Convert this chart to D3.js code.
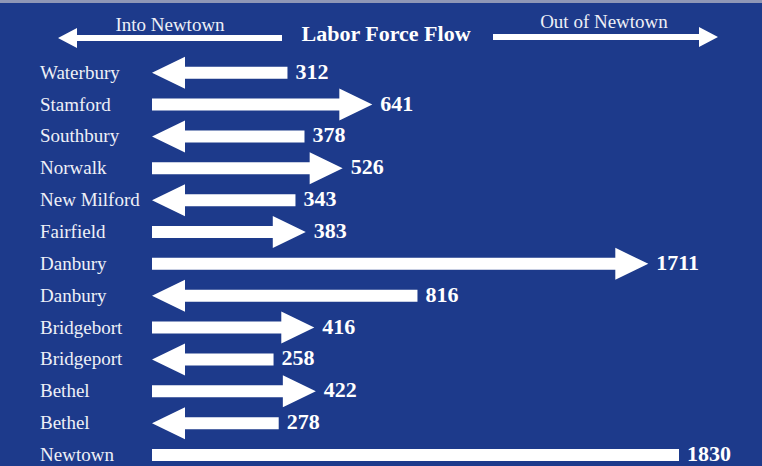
<!DOCTYPE html>
<html>
<head>
<meta charset="utf-8">
<style>
  body { margin: 0; background: #1d3a8b; }
  svg { display: block; }
</style>
</head>
<body>
<svg id="chart"></svg>
<script src="https://d3js.org/d3.v7.min.js"></script>
<script>
// towns, top to bottom
var towns = ["Waterbury", "Stamford", "Southbury", "Norwalk", "New Milford", "Fairfield",
             "Danbury", "Danbury", "Bridgebort", "Bridgeport", "Bethel", "Bethel", "Newtown"];
// workers commuting
var flows = [312, 641, 378, 526, 343, 383, 1711, 816, 416, 258, 422, 278, 1830];
// "in" = into Newtown (arrow points left), "out" = out of Newtown, "total" = plain bar
var directions = ["in", "out", "in", "out", "in", "out", "out", "in", "out", "in", "out", "in", "total"];

var title = "Labor Force Flow";
var leftCaption = "Into Newtown";
var rightCaption = "Out of Newtown";

var width = 762, height = 466;
var x0 = 152;          // where every arrow starts
var headLen = 33, headH = 32, shaft = 12;

var svg = d3.select("#chart").attr("width", width).attr("height", height);

svg.append("rect").attr("width", width).attr("height", height).attr("fill", "#1d3a8b");
// scanned top edge
svg.append("rect").attr("width", width).attr("height", 3).attr("fill", "#8f97b6");

var y = d3.scalePoint().domain(d3.range(towns.length)).range([72.7, 455]);
// arrow length
var len = d3.scaleLinear().domain([0, d3.max(flows)]).range([55, 527]);

var rows = towns.map(function(t, i) {
  return { town: t, value: flows[i], dir: directions[i], i: i };
});

function arrowPath(d) {
  var cy = y(d.i), L = len(d.value), s = shaft / 2, h = headH / 2;
  if (d.dir === "total") {
    return "M" + x0 + "," + (cy - s) + "H" + (x0 + L) + "V" + (cy + s) + "H" + x0 + "Z";
  }
  if (d.dir === "out") {
    var tip = x0 + L, b = tip - headLen;
    return "M" + x0 + "," + (cy - s) + "H" + b + "V" + (cy - h) + "L" + tip + "," + cy +
           "L" + b + "," + (cy + h) + "V" + (cy + s) + "H" + x0 + "Z";
  }
  var tail = x0 + L, b2 = x0 + headLen;
  return "M" + tail + "," + (cy - s) + "H" + b2 + "V" + (cy - h) + "L" + x0 + "," + cy +
         "L" + b2 + "," + (cy + h) + "V" + (cy + s) + "H" + tail + "Z";
}

var g = svg.selectAll("g.row").data(rows).enter().append("g").attr("class", "row");

g.append("text")
  .attr("x", 40)
  .attr("y", function(d) { return y(d.i) + 6; })
  .attr("font-family", "Liberation Serif, serif")
  .attr("font-size", 19)
  .attr("fill", "#eef0f7")
  .text(function(d) { return d.town; });

g.append("path")
  .attr("d", arrowPath)
  .attr("fill", "#ffffff");

g.append("text")
  .attr("x", function(d) { return x0 + len(d.value) + 8; })
  .attr("y", function(d) { return y(d.i) + 6; })
  .attr("font-family", "Liberation Serif, serif")
  .attr("font-weight", "bold")
  .attr("font-size", 22)
  .attr("fill", "#ffffff")
  .text(function(d) { return d.value; });

// header
svg.append("text")
  .attr("x", 386).attr("y", 41)
  .attr("text-anchor", "middle")
  .attr("font-family", "Liberation Serif, serif")
  .attr("font-weight", "bold")
  .attr("font-size", 22)
  .attr("fill", "#ffffff")
  .text(title);

svg.append("text")
  .attr("x", 170).attr("y", 31)
  .attr("text-anchor", "middle")
  .attr("font-family", "Liberation Serif, serif")
  .attr("font-size", 19)
  .attr("fill", "#eef0f7")
  .text(leftCaption);

svg.append("text")
  .attr("x", 604).attr("y", 28)
  .attr("text-anchor", "middle")
  .attr("font-family", "Liberation Serif, serif")
  .attr("font-size", 19)
  .attr("fill", "#eef0f7")
  .text(rightCaption);

function headerArrow(from, to, cy) {
  var dir = to > from ? 1 : -1, b = to - dir * 19;
  return "M" + from + "," + (cy - 3) + "H" + b + "V" + (cy - 10) + "L" + to + "," + cy +
         "L" + b + "," + (cy + 10) + "V" + (cy + 3) + "H" + from + "Z";
}
svg.append("path").attr("d", headerArrow(282, 58, 38)).attr("fill", "#ffffff");
svg.append("path").attr("d", headerArrow(493, 718, 37)).attr("fill", "#ffffff");
</script>
</body>
</html>
